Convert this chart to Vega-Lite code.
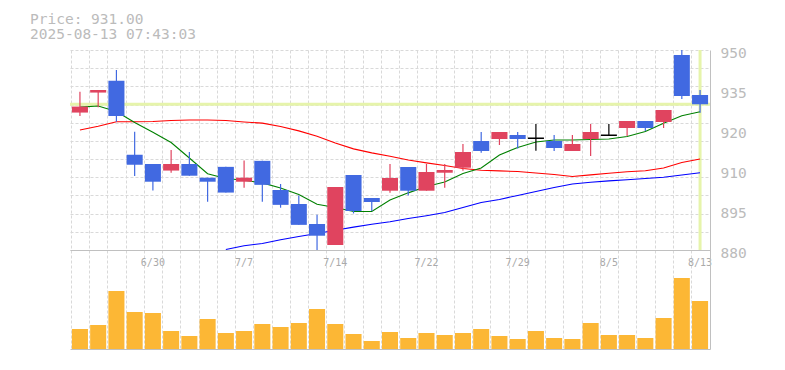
{
  "$schema": "https://vega.github.io/schema/vega-lite/v6.json",
  "width": 640,
  "height": 299,
  "autosize": "none",
  "padding": {"left": 70, "top": 50, "right": 75, "bottom": 21},
  "background": "white",
  "title": {
    "text": ["Price: 931.00", "2025-08-13 07:43:03"],
    "anchor": "start",
    "frame": "group",
    "dx": -40,
    "offset": 3,
    "font": "DejaVu Sans Mono",
    "fontSize": 14.5,
    "fontWeight": "normal",
    "color": "#bbbbbb",
    "lineHeight": 15
  },
  "config": {"view": {"stroke": null}},
  "data": {
    "values": [
      {"date": "2025-06-24", "open": 928.1, "high": 935.4, "low": 926.9, "close": 930.2, "volume": 200000, "ma_short": 930.0, "ma_mid": 922.0, "ma_long": null},
      {"date": "2025-06-25", "open": 935.1, "high": 936.0, "low": 930.0, "close": 936.0, "volume": 240000, "ma_short": 930.4, "ma_mid": 923.3, "ma_long": null},
      {"date": "2025-06-26", "open": 939.2, "high": 943.0, "low": 924.9, "close": 926.9, "volume": 580000, "ma_short": 928.5, "ma_mid": 924.9, "ma_long": null},
      {"date": "2025-06-27", "open": 913.3, "high": 921.4, "low": 905.9, "close": 909.8, "volume": 370000, "ma_short": 924.6, "ma_mid": 924.9, "ma_long": null},
      {"date": "2025-06-30", "open": 910.1, "high": 910.1, "low": 900.8, "close": 903.9, "volume": 360000, "ma_short": 921.2, "ma_mid": 925.0, "ma_long": null},
      {"date": "2025-07-01", "open": 907.8, "high": 915.0, "low": 907.0, "close": 910.1, "volume": 180000, "ma_short": 917.6, "ma_mid": 925.3, "ma_long": null},
      {"date": "2025-07-02", "open": 910.1, "high": 914.3, "low": 906.0, "close": 906.0, "volume": 130000, "ma_short": 912.2, "ma_mid": 925.5, "ma_long": null},
      {"date": "2025-07-03", "open": 905.3, "high": 905.3, "low": 896.9, "close": 903.9, "volume": 300000, "ma_short": 906.7, "ma_mid": 925.5, "ma_long": null},
      {"date": "2025-07-04", "open": 909.1, "high": 909.1, "low": 900.1, "close": 900.1, "volume": 160000, "ma_short": 905.0, "ma_mid": 925.3, "ma_long": 880.2},
      {"date": "2025-07-07", "open": 903.9, "high": 911.3, "low": 901.8, "close": 905.3, "volume": 180000, "ma_short": 904.4, "ma_mid": 924.8, "ma_long": 881.5},
      {"date": "2025-07-08", "open": 911.2, "high": 911.2, "low": 896.9, "close": 902.8, "volume": 250000, "ma_short": 903.5, "ma_mid": 924.4, "ma_long": 882.3},
      {"date": "2025-07-09", "open": 901.0, "high": 903.1, "low": 894.8, "close": 895.8, "volume": 220000, "ma_short": 901.7, "ma_mid": 923.25, "ma_long": 883.6},
      {"date": "2025-07-10", "open": 896.1, "high": 899.1, "low": 888.8, "close": 888.8, "volume": 260000, "ma_short": 899.4, "ma_mid": 921.7, "ma_long": 884.7},
      {"date": "2025-07-11", "open": 889.1, "high": 892.3, "low": 880.0, "close": 885.0, "volume": 400000, "ma_short": 896.0, "ma_mid": 919.8, "ma_long": 885.8},
      {"date": "2025-07-14", "open": 881.75, "high": 902.05, "low": 881.75, "close": 902.05, "volume": 250000, "ma_short": 894.9, "ma_mid": 917.45, "ma_long": 886.9},
      {"date": "2025-07-15", "open": 906.25, "high": 906.25, "low": 892.8, "close": 893.65, "volume": 150000, "ma_short": 893.5, "ma_mid": 915.4, "ma_long": 888.0},
      {"date": "2025-07-16", "open": 898.2, "high": 898.2, "low": 893.65, "close": 896.8, "volume": 80000, "ma_short": 893.5, "ma_mid": 914.0, "ma_long": 889.0},
      {"date": "2025-07-17", "open": 900.75, "high": 910.1, "low": 900.05, "close": 905.2, "volume": 170000, "ma_short": 897.5, "ma_mid": 912.8, "ma_long": 889.9},
      {"date": "2025-07-18", "open": 909.05, "high": 909.05, "low": 899.1, "close": 900.75, "volume": 110000, "ma_short": 900.0, "ma_mid": 911.5, "ma_long": 891.0},
      {"date": "2025-07-22", "open": 900.75, "high": 910.1, "low": 900.75, "close": 907.3, "volume": 160000, "ma_short": 902.2, "ma_mid": 910.5, "ma_long": 892.0},
      {"date": "2025-07-23", "open": 907.05, "high": 910.1, "low": 901.8, "close": 908.0, "volume": 140000, "ma_short": 903.8, "ma_mid": 909.6, "ma_long": 893.1},
      {"date": "2025-07-24", "open": 908.8, "high": 917.1, "low": 907.75, "close": 914.3, "volume": 160000, "ma_short": 906.8, "ma_mid": 908.5, "ma_long": 894.9},
      {"date": "2025-07-25", "open": 918.15, "high": 921.3, "low": 914.05, "close": 914.65, "volume": 200000, "ma_short": 908.7, "ma_mid": 907.9, "ma_long": 896.6},
      {"date": "2025-07-28", "open": 918.85, "high": 921.3, "low": 916.75, "close": 921.3, "volume": 130000, "ma_short": 913.25, "ma_mid": 907.7, "ma_long": 897.7},
      {"date": "2025-07-29", "open": 920.25, "high": 921.3, "low": 915.5, "close": 918.85, "volume": 100000, "ma_short": 915.9, "ma_mid": 907.45, "ma_long": 899.1},
      {"date": "2025-07-30", "open": 919.1, "high": 924.1, "low": 914.75, "close": 919.1, "volume": 180000, "ma_short": 917.8, "ma_mid": 906.95, "ma_long": 900.5},
      {"date": "2025-07-31", "open": 918.15, "high": 920.25, "low": 914.65, "close": 915.7, "volume": 110000, "ma_short": 918.5, "ma_mid": 906.4, "ma_long": 901.9},
      {"date": "2025-08-01", "open": 914.65, "high": 920.25, "low": 914.65, "close": 917.1, "volume": 100000, "ma_short": 918.5, "ma_mid": 905.7, "ma_long": 903.1},
      {"date": "2025-08-04", "open": 918.85, "high": 924.1, "low": 912.9, "close": 921.3, "volume": 260000, "ma_short": 918.7, "ma_mid": 906.3, "ma_long": 903.7},
      {"date": "2025-08-05", "open": 920.15, "high": 924.1, "low": 920.15, "close": 920.15, "volume": 140000, "ma_short": 918.85, "ma_mid": 906.85, "ma_long": 904.2},
      {"date": "2025-08-06", "open": 922.7, "high": 925.15, "low": 919.9, "close": 925.15, "volume": 140000, "ma_short": 919.7, "ma_mid": 907.4, "ma_long": 904.6},
      {"date": "2025-08-07", "open": 925.15, "high": 925.15, "low": 921.65, "close": 922.7, "volume": 110000, "ma_short": 921.45, "ma_mid": 907.75, "ma_long": 905.0},
      {"date": "2025-08-08", "open": 924.8, "high": 929.0, "low": 922.7, "close": 929.0, "volume": 310000, "ma_short": 924.35, "ma_mid": 908.7, "ma_long": 905.45},
      {"date": "2025-08-12", "open": 948.25, "high": 950.0, "low": 932.85, "close": 933.9, "volume": 710000, "ma_short": 927.0, "ma_mid": 910.6, "ma_long": 906.25},
      {"date": "2025-08-13", "open": 934.25, "high": 936.0, "low": 928.05, "close": 931.0, "volume": 480000, "ma_short": 928.4, "ma_mid": 911.85, "ma_long": 907.05}
    ]
  },
  "layer": [
    {
      "mark": {"type": "bar", "color": "#fcb735"},
      "encoding": {
        "x": {
          "field": "date", "type": "ordinal", "sort": null,
          "scale": {"paddingInner": 0.12, "paddingOuter": 0.105},
          "axis": {"orient": "bottom", "title": null, "labels": false, "ticks": false, "domain": true, "domainColor": "#c0c0c0", "grid": true, "gridColor": "#d9d9d9", "gridDash": [3, 2], "bandPosition": 0, "tickOffset": -1}
        },
        "y": {"field": "volume", "type": "quantitative", "scale": {"domain": [0, 2990000]}, "axis": null}
      }
    },
    {
      "layer": [
        {
          "data": {"values": [{"price": 931}]},
          "mark": {"type": "rule", "color": "#e6f4ab", "strokeWidth": 3},
          "encoding": {
            "y": {
              "field": "price", "type": "quantitative",
              "scale": {"domain": [845.35, 950], "zero": false, "nice": false},
              "axis": {"orient": "left", "title": null, "labels": false, "ticks": false, "domain": false, "grid": true, "gridColor": "#d9d9d9", "gridDash": [3, 2], "values": [880, 886.3636, 892.7273, 899.0909, 905.4545, 911.8182, 918.1818, 924.5455, 930.9091, 937.2727, 943.6364, 950]}
            }
          }
        },
        {
          "data": {"values": [{"date": "2025-08-13"}]},
          "mark": {"type": "rule", "color": "#e6f4ab", "strokeWidth": 3},
          "encoding": {
            "x": {"field": "date", "type": "ordinal", "sort": null, "scale": {"paddingInner": 0.12, "paddingOuter": 0.105}, "axis": null},
            "y": {"datum": 950, "type": "quantitative", "scale": {"domain": [845.35, 950], "zero": false, "nice": false}, "axis": null},
            "y2": {"datum": 880}
          }
        },
        {
          "mark": {"type": "line", "color": "#0000ff", "strokeWidth": 1.1},
          "encoding": {
            "x": {"field": "date", "type": "ordinal", "sort": null, "scale": {"paddingInner": 0.12, "paddingOuter": 0.105}, "axis": null},
            "y": {"field": "ma_long", "type": "quantitative", "scale": {"domain": [845.35, 950], "zero": false, "nice": false}, "axis": null}
          }
        },
        {
          "mark": {"type": "line", "color": "#ff0000", "strokeWidth": 1.1},
          "encoding": {
            "x": {"field": "date", "type": "ordinal", "sort": null, "scale": {"paddingInner": 0.12, "paddingOuter": 0.105}, "axis": null},
            "y": {"field": "ma_mid", "type": "quantitative", "scale": {"domain": [845.35, 950], "zero": false, "nice": false}, "axis": null}
          }
        },
        {
          "mark": {"type": "line", "color": "#008000", "strokeWidth": 1.1},
          "encoding": {
            "x": {"field": "date", "type": "ordinal", "sort": null, "scale": {"paddingInner": 0.12, "paddingOuter": 0.105}, "axis": null},
            "y": {"field": "ma_short", "type": "quantitative", "scale": {"domain": [845.35, 950], "zero": false, "nice": false}, "axis": null}
          }
        },
        {
          "mark": {"type": "rule", "strokeWidth": 1.2},
          "encoding": {
            "x": {
              "field": "date", "type": "ordinal", "sort": null,
              "scale": {"paddingInner": 0.12, "paddingOuter": 0.105},
              "axis": {"orient": "bottom", "offset": -99, "title": null, "ticks": false, "grid": false, "domain": true, "domainColor": "#c0c0c0", "labelAngle": 0, "labelOverlap": false, "labelFont": "DejaVu Sans Mono", "labelFontSize": 10, "labelColor": "#aaaaaa", "labelPadding": 7,
                "values": ["2025-06-30", "2025-07-07", "2025-07-14", "2025-07-22", "2025-07-29", "2025-08-05", "2025-08-13"],
                "labelExpr": "toNumber(slice(datum.value, 5, 7)) + '/' + toNumber(slice(datum.value, 8, 10))"}
            },
            "y": {"field": "low", "type": "quantitative", "scale": {"domain": [845.35, 950], "zero": false, "nice": false}, "axis": null},
            "y2": {"field": "high"},
            "color": {
              "condition": [
                {"test": "datum.close > datum.open", "value": "#e0445f"},
                {"test": "datum.close < datum.open", "value": "#4169e1"}
              ],
              "value": "#000000"
            }
          }
        },
        {
          "mark": {"type": "bar", "strokeWidth": 1.5},
          "encoding": {
            "x": {"field": "date", "type": "ordinal", "sort": null, "scale": {"paddingInner": 0.12, "paddingOuter": 0.105}, "axis": null},
            "y": {
              "field": "open", "type": "quantitative",
              "scale": {"domain": [845.35, 950], "zero": false, "nice": false},
              "axis": {"orient": "right", "title": null, "ticks": false, "grid": false, "domain": true, "domainColor": "#c0c0c0", "labelFont": "DejaVu Sans Mono", "labelFontSize": 14.5, "labelColor": "#bbbbbb", "labelPadding": 10, "labelOffset": 3, "labelBaseline": "middle",
                "values": [880, 894, 908, 922, 936, 950],
                "labelExpr": "format(round(datum.value / 5) * 5, 'd')"}
            },
            "y2": {"field": "close"},
            "color": {
              "condition": [
                {"test": "datum.close > datum.open", "value": "#e0445f"},
                {"test": "datum.close < datum.open", "value": "#4169e1"}
              ],
              "value": "#000000"
            },
            "stroke": {
              "condition": [{"test": "datum.close == datum.open", "value": "#000000"}],
              "value": "transparent"
            }
          }
        }
      ],
      "resolve": {"axis": {"x": "independent", "y": "independent"}}
    }
  ],
  "resolve": {"scale": {"y": "independent"}, "axis": {"x": "independent", "y": "independent"}}
}
